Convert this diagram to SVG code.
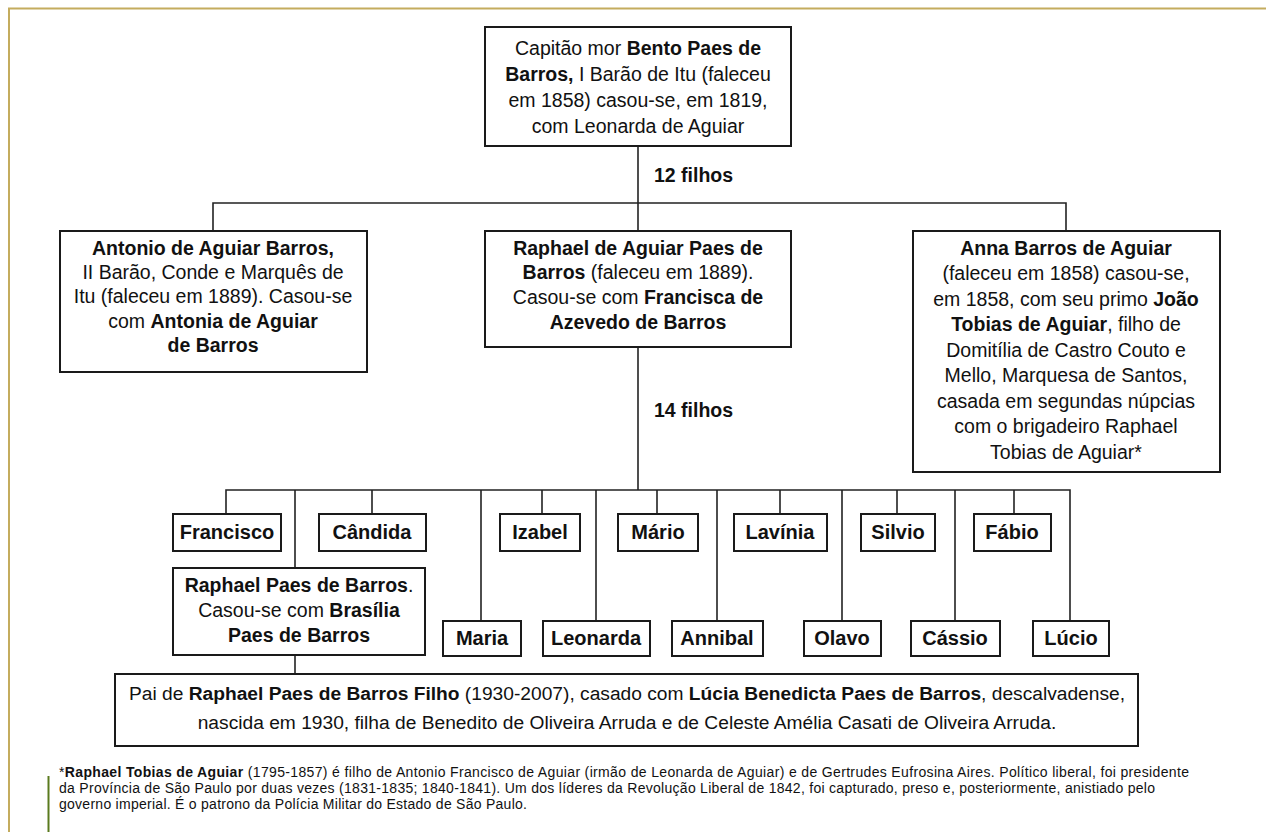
<svg xmlns="http://www.w3.org/2000/svg" width="1266" height="832" viewBox="0 0 1266 832">
<style>
text{font-family:"Liberation Sans",Arial,sans-serif;fill:#111;}
.t{font-size:19.5px;text-anchor:middle;}
.n{font-size:20px;font-weight:bold;text-anchor:middle;}
.b{font-weight:bold;}
.box{fill:#fff;stroke:#1a1a1a;stroke-width:2;}
.c{stroke:#222;stroke-width:1.6;fill:none;}
.fn{font-size:14px;}
.lbl{font-size:19.5px;font-weight:bold;}
</style>
<rect width="1266" height="832" fill="#fff"/>
<g id="frame">
<path d="M9,832 V8.5 H1266" fill="none" stroke="#c4ac5e" stroke-width="2"/>
<line x1="48.5" y1="776" x2="48.5" y2="832" stroke="#5a7a1e" stroke-width="2"/>
</g>
<g id="connectors" class="c">
<path d="M638,146 V231"/>
<path d="M213,231 V203 H1066 V231"/>
<path d="M638,347 V490"/>
<path d="M226,514 V490 H1070 V621"/>
<path d="M372,490 V514 M542,490 V514 M657,490 V514 M780,490 V514 M897,490 V514 M1014,490 V514"/>
<path d="M295,490 V568 M481,490 V621 M596,490 V621 M717,490 V621 M842,490 V621 M955,490 V621"/>
<path d="M295,655 V674"/>
</g>
<g id="bento">
<rect class="box" x="485" y="27" width="306" height="119"/>
<text class="t" x="638" y="55">Capitão mor <tspan class="b">Bento Paes de</tspan></text>
<text class="t" x="638" y="81"><tspan class="b">Barros,</tspan> I Barão de Itu (faleceu</text>
<text class="t" x="638" y="107">em 1858) casou-se, em 1819,</text>
<text class="t" x="638" y="133">com Leonarda de Aguiar</text>
</g>
<g id="label12"><text class="lbl" x="654" y="182">12 filhos</text></g>
<g id="antonio">
<rect class="box" x="60" y="231" width="307" height="141"/>
<text class="t" x="213" y="255"><tspan class="b">Antonio de Aguiar Barros,</tspan></text>
<text class="t" x="213" y="279">II Barão, Conde e Marquês de</text>
<text class="t" x="213" y="303">Itu (faleceu em 1889). Casou-se</text>
<text class="t" x="213" y="328">com <tspan class="b">Antonia de Aguiar</tspan></text>
<text class="t" x="213" y="352"><tspan class="b">de Barros</tspan></text>
</g>
<g id="raphael">
<rect class="box" x="485" y="231" width="306" height="116"/>
<text class="t" x="638" y="255"><tspan class="b">Raphael de Aguiar Paes de</tspan></text>
<text class="t" x="638" y="279"><tspan class="b">Barros</tspan> (faleceu em 1889).</text>
<text class="t" x="638" y="304">Casou-se  com <tspan class="b">Francisca de</tspan></text>
<text class="t" x="638" y="329"><tspan class="b">Azevedo de Barros</tspan></text>
</g>
<g id="anna">
<rect class="box" x="913" y="231" width="307" height="241"/>
<text class="t" x="1066" y="255"><tspan class="b">Anna Barros de Aguiar</tspan></text>
<text class="t" x="1066" y="280">(faleceu em 1858) casou-se,</text>
<text class="t" x="1066" y="306">em 1858, com seu primo <tspan class="b">João</tspan></text>
<text class="t" x="1066" y="331"><tspan class="b">Tobias de Aguiar</tspan>, filho de</text>
<text class="t" x="1066" y="357">Domitília de Castro Couto e</text>
<text class="t" x="1066" y="382">Mello, Marquesa de Santos,</text>
<text class="t" x="1066" y="408">casada em segundas núpcias</text>
<text class="t" x="1066" y="433">com o brigadeiro Raphael</text>
<text class="t" x="1066" y="459">Tobias de Aguiar*</text>
</g>
<g id="label14"><text class="lbl" x="654" y="417">14 filhos</text></g>
<g id="francisco"><rect class="box" x="173" y="514" width="108" height="37"/><text class="n" x="227" y="539">Francisco</text></g>
<g id="candida"><rect class="box" x="319" y="514" width="107" height="37"/><text class="n" x="372" y="539">Cândida</text></g>
<g id="izabel"><rect class="box" x="500" y="514" width="80" height="37"/><text class="n" x="540" y="539">Izabel</text></g>
<g id="mario"><rect class="box" x="618" y="514" width="80" height="37"/><text class="n" x="658" y="539">Mário</text></g>
<g id="lavinia"><rect class="box" x="734" y="514" width="93" height="37"/><text class="n" x="780" y="539">Lavínia</text></g>
<g id="silvio"><rect class="box" x="861" y="514" width="74" height="37"/><text class="n" x="898" y="539">Silvio</text></g>
<g id="fabio"><rect class="box" x="974" y="514" width="77" height="37"/><text class="n" x="1012" y="539">Fábio</text></g>
<g id="raphaelpaes">
<rect class="box" x="173" y="568" width="252" height="87"/>
<text class="t" x="299" y="592"><tspan class="b">Raphael Paes de Barros</tspan>.</text>
<text class="t" x="299" y="617">Casou-se com <tspan class="b">Brasília</tspan></text>
<text class="t" x="299" y="642"><tspan class="b">Paes de Barros</tspan></text>
</g>
<g id="maria"><rect class="box" x="443" y="621" width="78" height="35"/><text class="n" x="482" y="645">Maria</text></g>
<g id="leonarda"><rect class="box" x="543" y="621" width="107" height="35"/><text class="n" x="596" y="645">Leonarda</text></g>
<g id="annibal"><rect class="box" x="672" y="621" width="91" height="35"/><text class="n" x="717" y="645">Annibal</text></g>
<g id="olavo"><rect class="box" x="804" y="621" width="77" height="35"/><text class="n" x="842" y="645">Olavo</text></g>
<g id="cassio"><rect class="box" x="911" y="621" width="89" height="35"/><text class="n" x="955" y="645">Cássio</text></g>
<g id="lucio"><rect class="box" x="1033" y="621" width="76" height="35"/><text class="n" x="1071" y="645">Lúcio</text></g>
<g id="pai">
<rect class="box" x="115" y="674" width="1023" height="72"/>
<text class="t" x="627" y="700" style="font-size:19.2px">Pai de <tspan class="b">Raphael Paes de Barros Filho</tspan> (1930-2007), casado com <tspan class="b">Lúcia Benedicta Paes de Barros</tspan>, descalvadense,</text>
<text class="t" x="627" y="729" style="font-size:19.2px">nascida em 1930, filha de Benedito de Oliveira Arruda e de Celeste Amélia Casati de Oliveira Arruda.</text>
</g>
<g id="footnote">
<text class="fn" x="59" y="777" textLength="1130" lengthAdjust="spacing">*<tspan class="b">Raphael Tobias de Aguiar</tspan> (1795-1857) é filho de Antonio Francisco de Aguiar (irmão de Leonarda de Aguiar) e de Gertrudes Eufrosina Aires. Político liberal, foi presidente</text>
<text class="fn" x="59" y="793" textLength="1096" lengthAdjust="spacing">da Província de São Paulo por duas vezes (1831-1835; 1840-1841). Um dos líderes da Revolução Liberal de 1842, foi capturado, preso e, posteriormente, anistiado pelo</text>
<text class="fn" x="59" y="809" textLength="468" lengthAdjust="spacing">governo imperial. É o patrono da Polícia Militar do Estado de São Paulo.</text>
</g>
</svg>
